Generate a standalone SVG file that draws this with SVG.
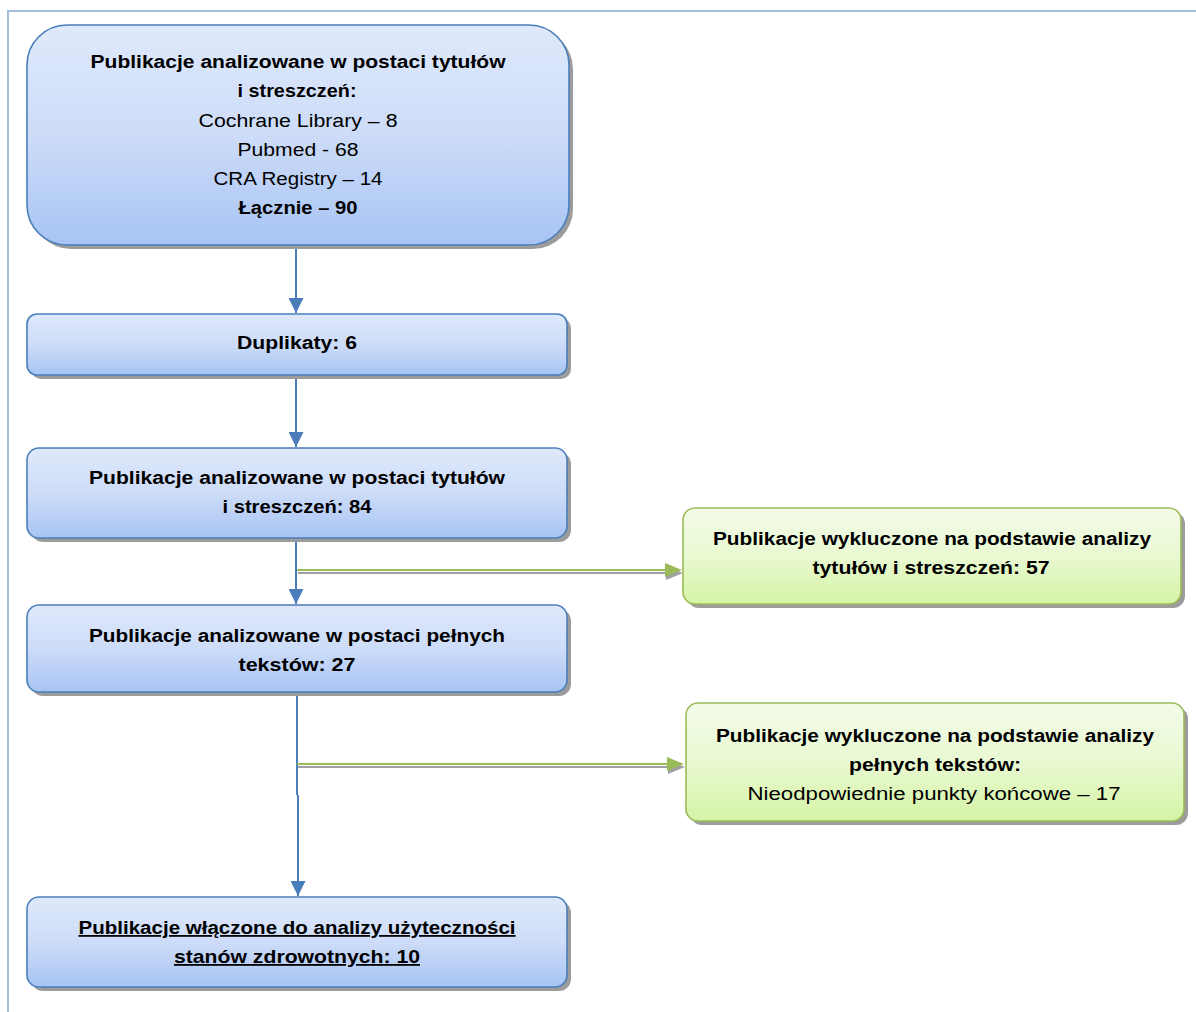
<svg xmlns="http://www.w3.org/2000/svg" width="1196" height="1012" viewBox="0 0 1196 1012">
<defs>
<linearGradient id="gb" x1="0" y1="0" x2="0" y2="1">
<stop offset="0" stop-color="#dfe9fb"/>
<stop offset="0.5" stop-color="#cddcf8"/>
<stop offset="1" stop-color="#a7c4f4"/>
</linearGradient>
<linearGradient id="gg" x1="0" y1="0" x2="0" y2="1">
<stop offset="0" stop-color="#f3fbe8"/>
<stop offset="0.5" stop-color="#e9f9d2"/>
<stop offset="1" stop-color="#d5f4a4"/>
</linearGradient>
<marker id="ab" viewBox="0 0 10 10" refX="10" refY="5" markerWidth="7.5" markerHeight="7.5" markerUnits="strokeWidth" orient="auto">
<path d="M0,0 L10,5 L0,10 Z" fill="#4a7ebb"/>
</marker>
</defs>
<style>
.bx{fill:url(#gb);stroke:#4a7ebb;stroke-width:1.6}
.gx{fill:url(#gg);stroke:#9bbb59;stroke-width:1.6}
.sh{fill:#9c9c9c}
text{font-family:"Liberation Sans",Arial,sans-serif;font-size:18px;fill:#000;text-anchor:middle}
.b{font-weight:bold}
.u{text-decoration:underline}
.bl{stroke:#4a7ebb;stroke-width:2;fill:none}
.gl{stroke:#9bbb59;stroke-width:2.2;fill:none}
.gs{stroke:#a0a0a0;stroke-width:2.2;fill:none}
</style>
<path d="M8,1012 V11 H1196" fill="none" stroke="#a6bedd" stroke-width="2"/>
<g id="connectors">
<line class="bl" x1="296" y1="245" x2="296" y2="313" marker-end="url(#ab)"/>
<line class="bl" x1="296" y1="375" x2="296" y2="447" marker-end="url(#ab)"/>
<line class="bl" x1="296" y1="538" x2="296" y2="604" marker-end="url(#ab)"/>
<path class="bl" d="M297,692 V795"/>
<line class="bl" x1="298" y1="795" x2="298" y2="896" marker-end="url(#ab)"/>
<line class="gs" x1="298" y1="573" x2="668" y2="573"/>
<path d="M666,566 L683,573 L666,580 Z" fill="#a0a0a0"/>
<line class="gl" x1="297" y1="570" x2="667" y2="570"/>
<path d="M665,563 L682,570 L665,577 Z" fill="#9bbb59"/>
<line class="gs" x1="298" y1="767" x2="670" y2="767"/>
<path d="M668,760 L685,767 L668,774 Z" fill="#a0a0a0"/>
<line class="gl" x1="297" y1="764" x2="669" y2="764"/>
<path d="M667,757 L684,764 L667,771 Z" fill="#9bbb59"/>
</g>
<g id="n1">
<rect class="sh" x="31" y="29" width="542" height="220" rx="40"/>
<rect class="bx" x="27" y="25" width="542" height="220" rx="40"/>
<text class="b" x="298" y="68" textLength="415" lengthAdjust="spacingAndGlyphs">Publikacje analizowane w postaci tytułów</text>
<text class="b" x="297" y="97" textLength="119" lengthAdjust="spacingAndGlyphs">i streszczeń:</text>
<text x="298" y="127" textLength="199" lengthAdjust="spacingAndGlyphs">Cochrane Library – 8</text>
<text x="298" y="156" textLength="121" lengthAdjust="spacingAndGlyphs">Pubmed - 68</text>
<text x="298" y="185" textLength="169" lengthAdjust="spacingAndGlyphs">CRA Registry – 14</text>
<text class="b" x="298" y="214" textLength="119" lengthAdjust="spacingAndGlyphs">Łącznie – 90</text>
</g>
<g id="n2">
<rect class="sh" x="31" y="318" width="540" height="61" rx="10"/>
<rect class="bx" x="27" y="314" width="540" height="61" rx="10"/>
<text class="b" x="297" y="349" textLength="120" lengthAdjust="spacingAndGlyphs">Duplikaty: 6</text>
</g>
<g id="n3">
<rect class="sh" x="31" y="452" width="540" height="90" rx="12"/>
<rect class="bx" x="27" y="448" width="540" height="90" rx="12"/>
<text class="b" x="297" y="484" textLength="416" lengthAdjust="spacingAndGlyphs">Publikacje analizowane w postaci tytułów</text>
<text class="b" x="297" y="513" textLength="149" lengthAdjust="spacingAndGlyphs">i streszczeń: 84</text>
</g>
<g id="n4">
<rect class="sh" x="31" y="609" width="540" height="87" rx="12"/>
<rect class="bx" x="27" y="605" width="540" height="87" rx="12"/>
<text class="b" x="297" y="642" textLength="416" lengthAdjust="spacingAndGlyphs">Publikacje analizowane w postaci pełnych</text>
<text class="b" x="297" y="671" textLength="117" lengthAdjust="spacingAndGlyphs">tekstów: 27</text>
</g>
<g id="n5">
<rect class="sh" x="31" y="901" width="540" height="90" rx="12"/>
<rect class="bx" x="27" y="897" width="540" height="90" rx="12"/>
<text class="b u" x="297" y="934" textLength="437" lengthAdjust="spacingAndGlyphs">Publikacje włączone do analizy użyteczności</text>
<text class="b u" x="297" y="963" textLength="246" lengthAdjust="spacingAndGlyphs">stanów zdrowotnych: 10</text>
</g>
<g id="n6">
<rect class="sh" x="687" y="512" width="498" height="96" rx="12"/>
<rect class="gx" x="683" y="508" width="498" height="96" rx="12"/>
<text class="b" x="932" y="545" textLength="438" lengthAdjust="spacingAndGlyphs">Publikacje wykluczone na podstawie analizy</text>
<text class="b" x="931" y="574" textLength="237" lengthAdjust="spacingAndGlyphs">tytułów i streszczeń: 57</text>
</g>
<g id="n7">
<rect class="sh" x="690" y="707" width="498" height="118" rx="12"/>
<rect class="gx" x="686" y="703" width="498" height="118" rx="12"/>
<text class="b" x="935" y="742" textLength="438" lengthAdjust="spacingAndGlyphs">Publikacje wykluczone na podstawie analizy</text>
<text class="b" x="935" y="771" textLength="172" lengthAdjust="spacingAndGlyphs">pełnych tekstów:</text>
<text x="934" y="800" textLength="373" lengthAdjust="spacingAndGlyphs">Nieodpowiednie punkty końcowe – 17</text>
</g>
</svg>
